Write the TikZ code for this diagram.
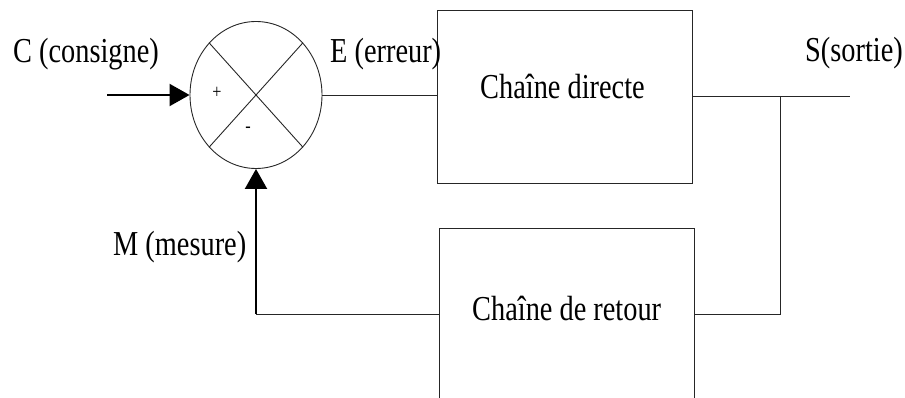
\documentclass[tikz,border=0pt]{standalone}
\usepackage{fontspec}
\setmainfont{Liberation Serif}[FakeStretch=0.81]
\usetikzlibrary{shapes.geometric,arrows.meta}
\tikzset{
  wire/.style={draw=black!85, line width=0.9pt},
  feed/.style={draw=black, line width=2pt, -{Triangle[length=20pt,width=22pt]}},
  block/.style={draw=black!85, line width=0.9pt, rectangle, minimum width=255pt, minimum height=172pt, inner sep=0pt},
  lbl/.style={inner sep=0pt, anchor=base west, font=\fontsize{35}{40}\selectfont},
  sign/.style={inner sep=0pt, font=\fontsize{20}{22}\selectfont}
}
\begin{document}
\begin{tikzpicture}[x=1pt,y=-1pt]
  \useasboundingbox (0,0) rectangle (905,398);
  \clip (0,0) rectangle (905,398);
  % comparator
  \node[ellipse, draw=black!85, line width=0.9pt, minimum width=132pt, minimum height=147pt, inner sep=0pt] (sum) at (256,95) {};
  \draw[wire] (sum.north west) -- (sum.south east);
  \draw[wire] (sum.north east) -- (sum.south west);
  \node[sign] (plus) at (217,93) {+};
  \node[sign] (minus) at (248,130) {-};
  % blocks
  \node[block, minimum height=173pt] (direct) at (564.5,96.5) {};
  \node[block] (retour) at (566.5,314) {};
  \node[lbl] (tdirect) at (480,99) {Chaîne directe};
  \node[lbl] (tretour) at (472,320) {Chaîne de retour};
  % signal labels
  \node[lbl] (tc) at (13,63) {C (consigne)};
  \node[lbl] (te) at (330,63) {E (erreur)};
  \node[lbl] (ts) at (805,62) {S(sortie)};
  \node[lbl] (tm) at (113,255) {M (mesure)};
  % connections
  \coordinate (cin) at (107,95);
  \coordinate (sout) at (850,96);
  \coordinate (br) at (780,96);
  \coordinate (corner) at (sum.south |- retour.west);
  \draw[feed] (cin) -- (sum.west);
  \draw[wire] (sum.east) -- (sum.east -| direct.west);
  \draw[wire] (direct.east |- sout) -- (sout);
  \draw[wire] (br) -- (br |- retour.east) -- (retour.east);
  \draw[wire] (retour.west) -- (corner);
  \draw[feed] (corner) -- (sum.south);
\end{tikzpicture}
\end{document}
